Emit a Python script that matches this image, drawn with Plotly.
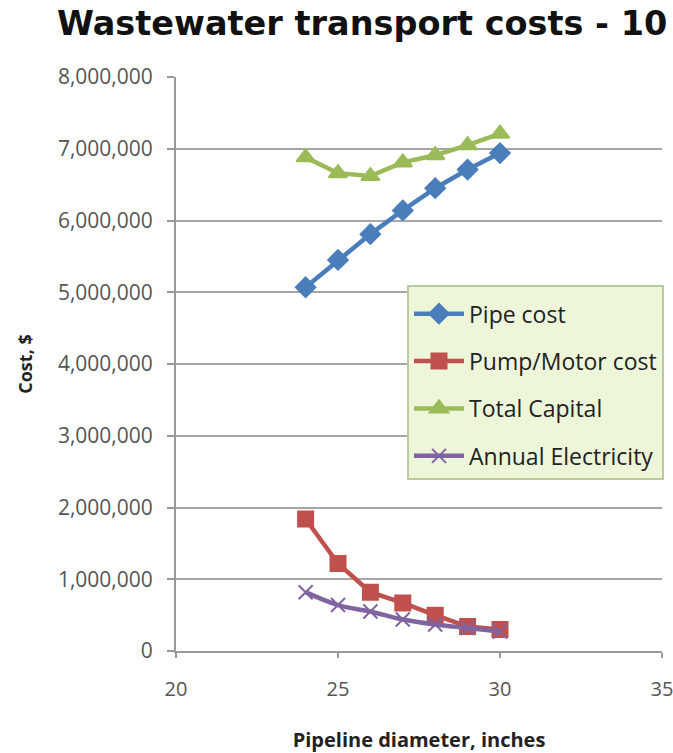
import plotly.graph_objects as go

diameter = [24, 25, 26, 27, 28, 29, 30]
pipe_cost = [5070000, 5450000, 5810000, 6140000, 6450000, 6710000, 6940000]
pump_cost = [1840000, 1220000, 820000, 670000, 500000, 340000, 300000]
total_capital = [6880000, 6660000, 6620000, 6810000, 6910000, 7050000, 7210000]
annual_elec = [820000, 640000, 550000, 440000, 370000, 320000, 270000]

series = [
    ("Pipe cost", pipe_cost, "#4A7EBB", "diamond", 15, "linear"),
    ("Pump/Motor cost", pump_cost, "#C0504D", "square", 15, "linear"),
    ("Total Capital", total_capital, "#9BBB59", "triangle-up", 16, "linear"),
    ("Annual Electricity", annual_elec, "#8064A2", "x-thin", 14, "spline"),
]

fig = go.Figure()
for i, (name, vals, col, sym, sz, shape) in enumerate(series):
    fig.add_trace(go.Scatter(
        x=diameter, y=vals, name=name, mode="lines+markers",
        line=dict(color=col, width=4.5, shape=shape),
        marker=dict(symbol=sym, size=sz, color=col, line=dict(color=col, width=2)),
        legendgroup=str(i),
    ))

font = "Open Sans, Liberation Sans, sans-serif"
fig.update_layout(
    width=673, height=753,
    margin=dict(l=176, r=11, t=77, b=102, autoexpand=False),
    paper_bgcolor="white", plot_bgcolor="white",
    font=dict(family=font, color="#555555"),
    title=dict(text="<b>Wastewater transport costs - 10</b>",
               x=57/673, xanchor="left", y=1-23/753, yanchor="middle",
               font=dict(size=33.5, color="#111111", family="DejaVu Sans, sans-serif")),
    showlegend=True,
    legend=dict(x=(407-176)/486, y=(651-285)/574, xanchor="left", yanchor="top",
                bgcolor="#EEF6DA", bordercolor="#B9CB9C", borderwidth=2,
                font=dict(size=23, color="#222222", family=font),
                title=dict(text=" ", font=dict(size=4)),
                itemwidth=50, tracegroupgap=14.5, traceorder="grouped"),
    xaxis=dict(range=[20, 35], tickvals=[20, 25, 30, 35], showgrid=False,
               showline=True, linecolor="#999999", linewidth=2,
               ticks="outside", ticklen=5, tickcolor="#999999", tickwidth=1.5,
               ticklabelstandoff=14, ticklabeloverflow="allow", automargin=False,
               tickfont=dict(size=20, color="#555555"),
               title=dict(text="<b>Pipeline diameter, inches</b>", standoff=32,
                          font=dict(size=20, color="#222222")),
               zeroline=False),
    yaxis=dict(range=[0, 8000000], dtick=1000000, tickformat=",d",
               showgrid=True, gridcolor="#A6A6A6", gridwidth=1.5,
               showline=True, linecolor="#999999", linewidth=2,
               ticks="outside", ticklen=7, tickcolor="#999999", tickwidth=1.5,
               ticklabelstandoff=10, automargin=False,
               tickfont=dict(size=21, color="#555555"),
               title=dict(text="<b>Cost, $</b>", standoff=21,
                          font=dict(size=18, color="#222222")),
               zeroline=False),
)

fig.write_html(
    "out.html",
    config={"displayModeBar": False},
    post_script="document.body.style.margin='0px';document.body.style.overflow='hidden';",
)
